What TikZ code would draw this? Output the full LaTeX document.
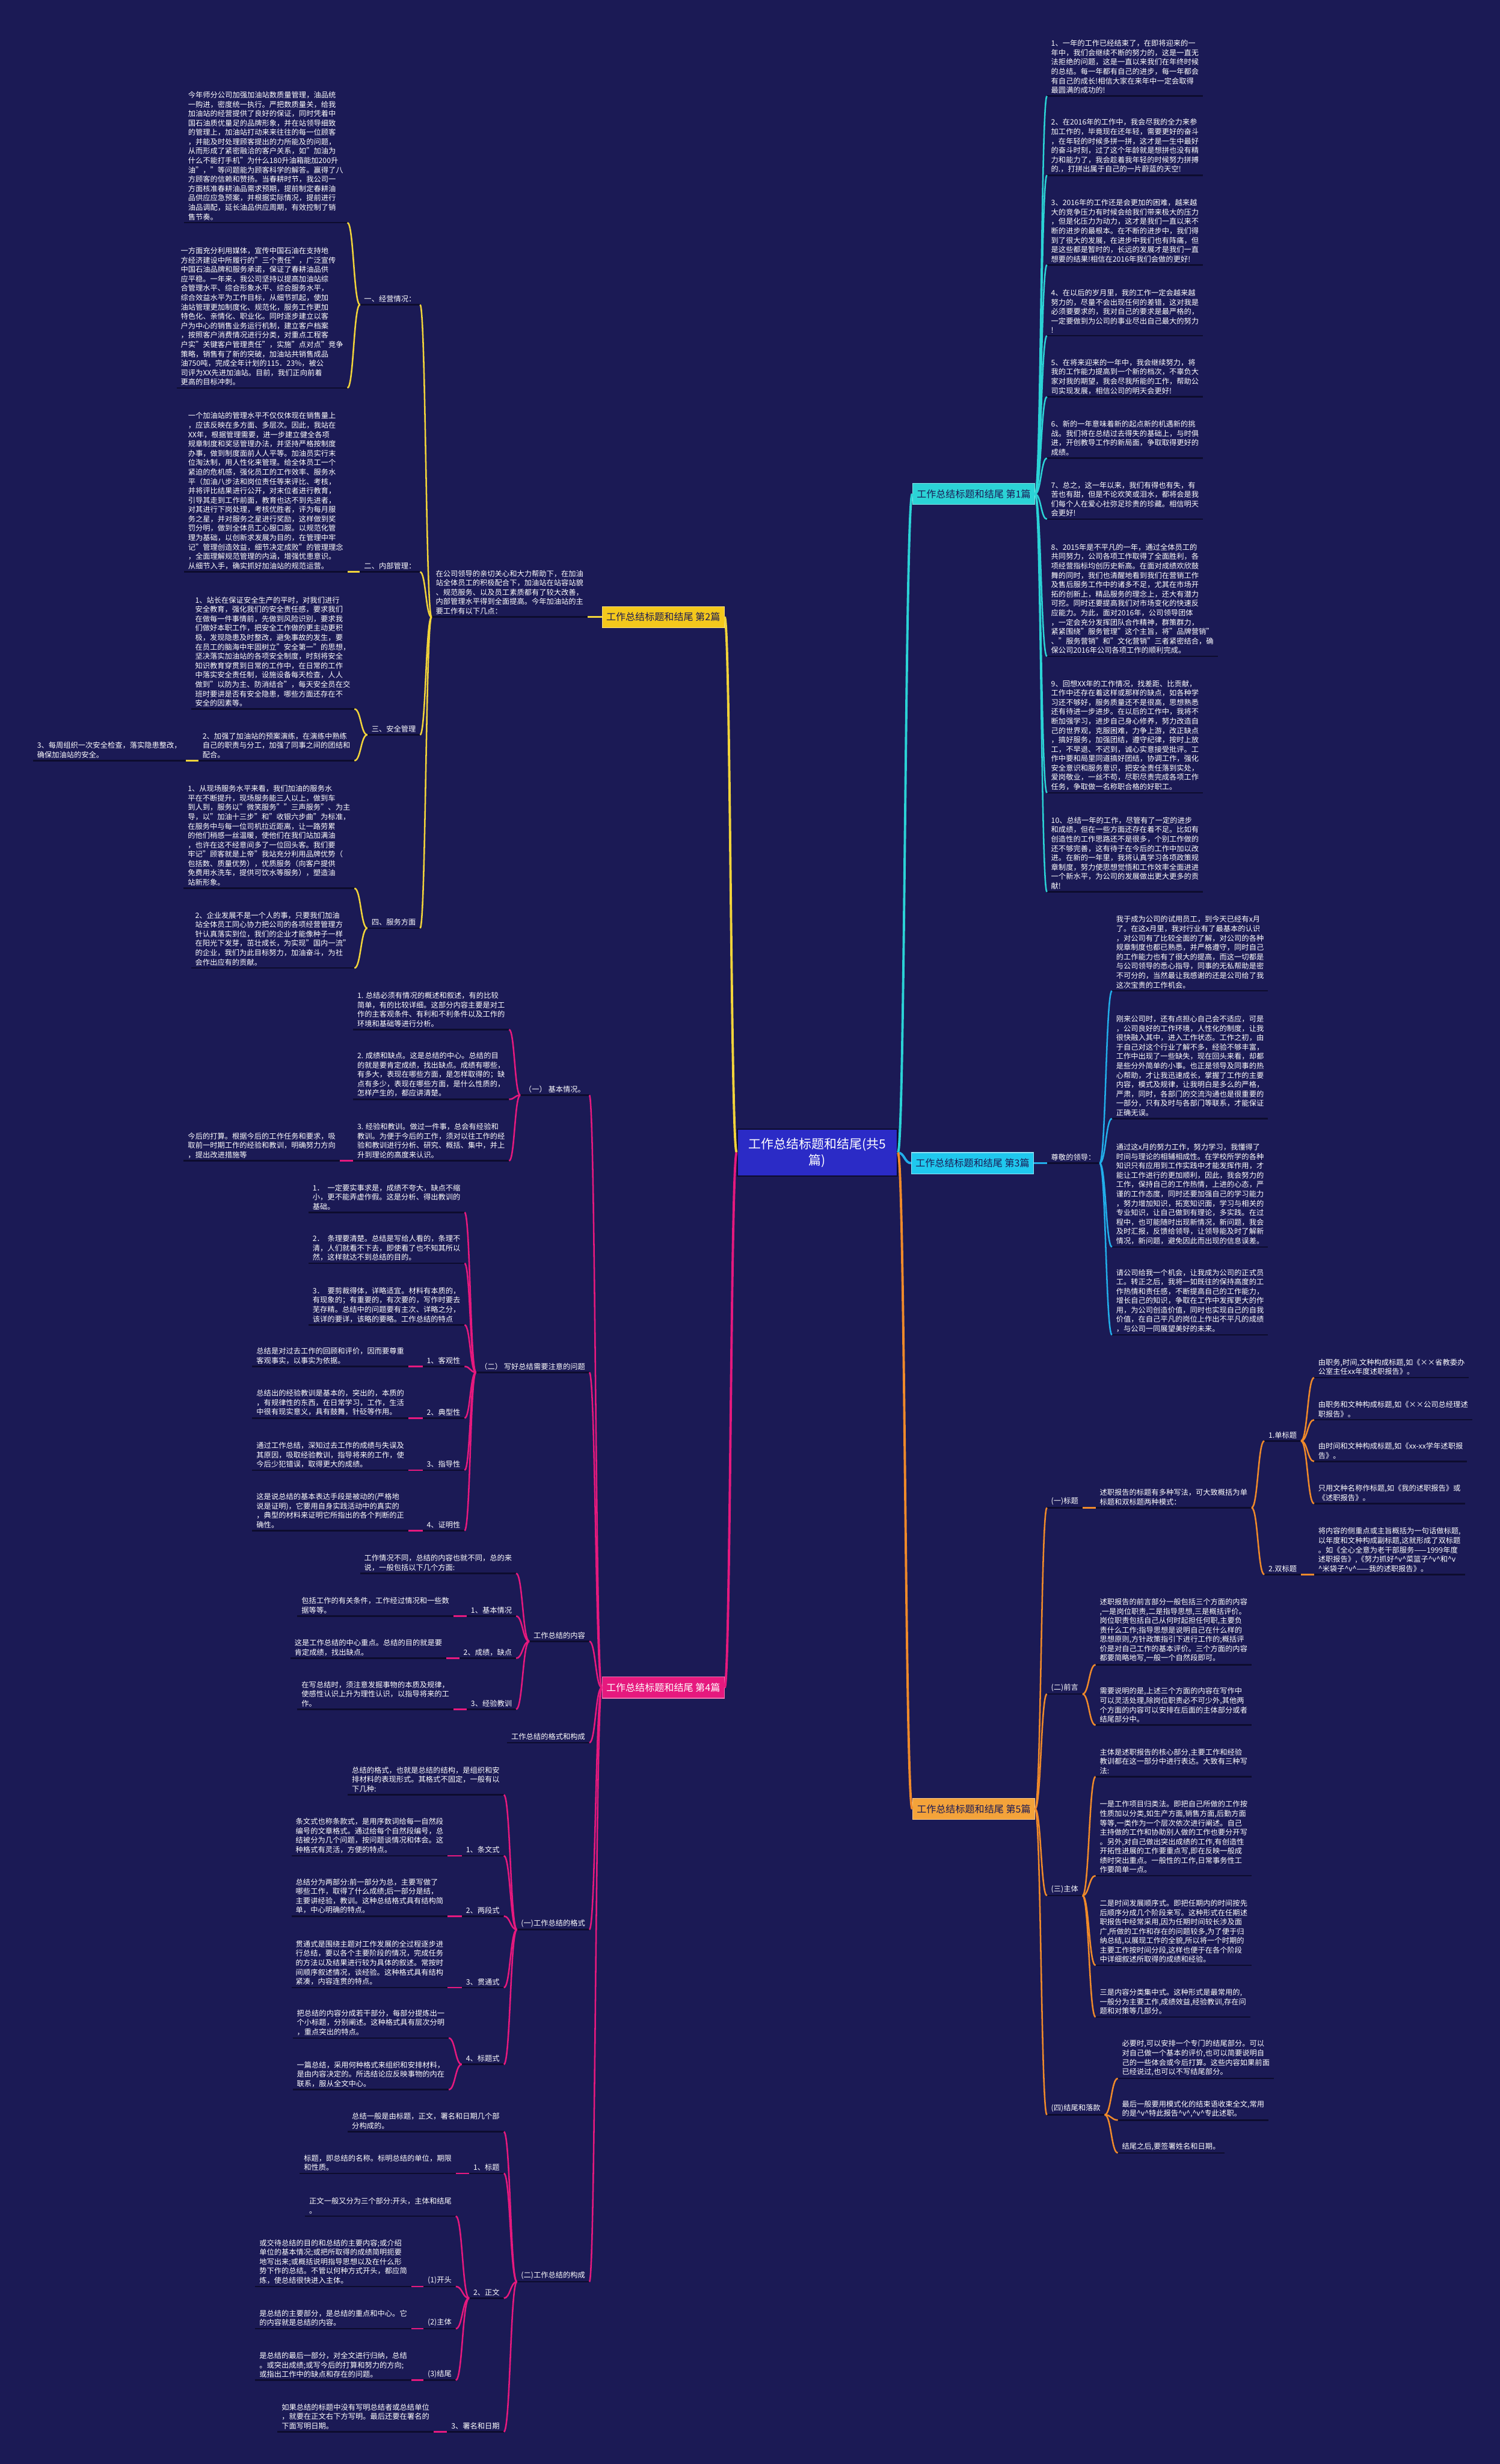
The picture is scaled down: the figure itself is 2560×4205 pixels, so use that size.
\documentclass[tikz,border=0pt]{standalone}
\usepackage{fontspec}
\setmainfont{Noto Sans CJK SC}
\usetikzlibrary{calc}
\definecolor{bg}{HTML}{1B1A55}
\definecolor{ulc}{HTML}{0D0C2E}
\definecolor{cOne}{HTML}{2BD3D6}
\definecolor{cTwo}{HTML}{F4C81C}
\definecolor{cTwoL}{HTML}{F2D43A}
\definecolor{cThree}{HTML}{1FC8EE}
\definecolor{cThreeL}{HTML}{22AEEA}
\definecolor{cFour}{HTML}{E6197E}
\definecolor{cFive}{HTML}{F4A33A}
\definecolor{cFiveL}{HTML}{F08A2A}
\definecolor{cCtr}{HTML}{2B2BC6}
\definecolor{dtxt}{HTML}{1B1A55}
\newcommand\ftxt{\fontsize{12.6}{16}\selectfont}
\newcommand\fbr{\fontsize{16.5}{20}\selectfont}
\newcommand\fctr{\fontsize{21.5}{28}\selectfont}
\newcommand\cc{\textasciicircum}
\newcommand\nodeL[4]{\node[txt,anchor=south east] (#1) at (#2,#3) {#4};}
\newcommand\nodeR[4]{\node[txt,anchor=south west] (#1) at (#2,#3) {#4};}
\newcommand\lnk[3]{\draw[#1] let \p1=#2, \p2=#3 in (\p1) .. controls ({0.5*\x1+0.5*\x2},\y1) and ({0.5*\x1+0.5*\x2},\y2) .. (\p2);}
\begin{document}
\begin{tikzpicture}[x=1pt,y=-1pt,
  txt/.style={font=\ftxt, text=white, align=left, inner xsep=7pt, inner ysep=4pt},
  bbox/.style={font=\fbr, inner xsep=7pt, inner ysep=0pt, minimum height=36pt, line width=1.2pt},
  ul/.style={draw=ulc, line width=2.6pt},
  kOne/.style={draw=cOne, line width=2.6pt},
  kTwo/.style={draw=cTwoL, line width=2.6pt},
  kThree/.style={draw=cThreeL, line width=2.6pt},
  kFour/.style={draw=cFour, line width=2.6pt},
  kFive/.style={draw=cFiveL, line width=2.6pt},
  mOne/.style={draw=cOne, line width=4pt},
  mTwo/.style={draw=cTwoL, line width=4pt},
  mThree/.style={draw=cThreeL, line width=4pt},
  mFour/.style={draw=cFour, line width=4pt},
  mFive/.style={draw=cFiveL, line width=4pt}]
\useasboundingbox (0,0) rectangle (2560,4205);
\fill[bg] (0,0) rectangle (2560,4205);

% ---------- centre and branch boxes ----------
\node[fill=cCtr, draw=ulc, line width=2pt, text=white, font=\fctr, align=center, minimum width=273pt, minimum height=80pt] (c) at (1395,1967) {工作总结标题和结尾(共5\\篇)};
\node[bbox, fill=cOne, draw=cOne!60!white, text=dtxt] (b1) at (1662,843) {工作总结标题和结尾 第1篇};
\node[bbox, fill=cTwo, draw=cTwo!60!white, text=dtxt] (b2) at (1132,1053) {工作总结标题和结尾 第2篇};
\node[bbox, fill=cThree, draw=cThree!50!white, text=dtxt] (b3) at (1660,1985) {工作总结标题和结尾 第3篇};
\node[bbox, fill=cFour, draw=cFour!60!white, text=white] (b4) at (1132,2880) {工作总结标题和结尾 第4篇};
\node[bbox, fill=cFive, draw=cFive!60!white, text=dtxt] (b5) at (1662,3087) {工作总结标题和结尾 第5篇};
\coordinate (cR) at (c.east);
\coordinate (cL) at (c.west);

% ---------- branch 1 ----------
\nodeR{p1}{1787}{164}{1、一年的工作已经结束了，在即将迎来的一\\年中，我们会继续不断的努力的，这是一直无\\法拒绝的问题，这是一直以来我们在年终时候\\的总结。每一年都有自己的进步，每一年都会\\有自己的成长!相信大家在来年中一定会取得\\最圆满的成功的!}
\nodeR{p2}{1787}{299}{2、在2016年的工作中，我会尽我的全力来参\\加工作的，毕竟现在还年轻，需要更好的奋斗\\，在年轻的时候多拼一拼，这才是一生中最好\\的奋斗时刻，过了这个年龄就是想拼也没有精\\力和能力了，我会趁着我年轻的时候努力拼搏\\的.，打拼出属于自己的一片蔚蓝的天空!}
\nodeR{p3}{1787}{452}{3、2016年的工作还是会更加的困难，越来越\\大的竞争压力有时候会给我们带来极大的压力\\，但是化压力为动力，这才是我们一直以来不\\断的进步的最根本。在不断的进步中，我们得\\到了很大的发展，在进步中我们也有阵痛，但\\是这些都是暂时的，长远的发展才是我们一直\\想要的结果!相信在2016年我们会做的更好!}
\nodeR{p4}{1787}{573}{4、在以后的岁月里，我的工作一定会越来越\\努力的，尽量不会出现任何的差错，这对我是\\必须要要求的，我对自己的要求是最严格的，\\一定要做到为公司的事业尽出自己最大的努力\\!}
\nodeR{p5}{1787}{677}{5、在将来迎来的一年中，我会继续努力，将\\我的工作能力提高到一个新的档次，不辜负大\\家对我的期望，我会尽我所能的工作，帮助公\\司实现发展，相信公司的明天会更好!}
\nodeR{p6}{1787}{782}{6、新的一年意味着新的起点新的机遇新的挑\\战。我们将在总结过去得失的基础上，与时俱\\进，开创教导工作的新局面，争取取得更好的\\成绩。}
\nodeR{p7}{1787}{886}{7、总之，这一年以来，我们有得也有失，有\\苦也有甜，但是不论欢笑或泪水，都将会是我\\们每个人在爱心社弥足珍贵的珍藏。相信明天\\会更好!}
\nodeR{p8}{1787}{1120}{8、2015年是不平凡的一年，通过全体员工的\\共同努力，公司各项工作取得了全面胜利，各\\项经营指标均创历史新高。在面对成绩欢欣鼓\\舞的同时，我们也清醒地看到我们在营销工作\\及售后服务工作中的诸多不足，尤其在市场开\\拓的创新上，精品服务的理念上，还大有潜力\\可挖。同时还要提高我们对市场变化的快速反\\应能力。为此，面对2016年，公司领导团体\\，一定会充分发挥团队合作精神，群策群力，\\紧紧围绕"服务管理"这个主旨，将"品牌营销"\\、"服务营销"和"文化营销"三者紧密结合，确\\保公司2016年公司各项工作的顺利完成。}
\nodeR{p9}{1787}{1353}{9、回想XX年的工作情况，找差距、比贡献，\\工作中还存在着这样或那样的缺点，如各种学\\习还不够好，服务质量还不是很高，思想熟悉\\还有待进一步进步。在以后的工作中，我将不\\断加强学习，进步自己身心修养，努力改造自\\己的世界观，克服困难，力争上游，改正缺点\\，搞好服务，加强团结，遵守纪律，按时上放\\工，不早退、不迟到，诚心实意接受批评。工\\作中要和局里同道搞好团结，协调工作，强化\\安全意识和服务意识，把安全责任落到实处，\\爱岗敬业，一丝不苟，尽职尽责完成各项工作\\任务，争取做一名称职合格的好职工。}
\nodeR{p10}{1787}{1522}{10、总结一年的工作，尽管有了一定的进步\\和成绩，但在一些方面还存在着不足。比如有\\创造性的工作思路还不是很多，个别工作做的\\还不够完善，这有待于在今后的工作中加以改\\进。在新的一年里，我将认真学习各项政策规\\章制度，努力使思想觉悟和工作效率全面进进\\一个新水平，为公司的发展做出更大更多的贡\\献!}

% ---------- branch 2 ----------
\nodeL{i2}{1003}{1053}{在公司领导的亲切关心和大力帮助下，在加油\\站全体员工的积极配合下，加油站在站容站貌\\、规范服务、以及员工素质都有了较大改善，\\内部管理水平得到全面提高。今年加油站的主\\要工作有以下几点：}
\nodeL{l21}{717}{520}{一、经营情况：}
\nodeL{a21}{593}{380}{今年师分公司加强加油站数质量管理，油品统\\一购进，密度统一执行。严把数质量关，给我\\加油站的经营提供了良好的保证，同时凭着中\\国石油质优量足的品牌形象，并在站领导细致\\的管理上，加油站打动来来往往的每一位顾客\\，并能及时处理顾客提出的力所能及的问题，\\从而形成了紧密融洽的客户关系，如"加油为\\什么不能打手机"为什么180升油箱能加200升\\油"，"等问题能为顾客科学的解答。赢得了八\\方顾客的信赖和赞扬。当春耕时节，我公司一\\方面核准春耕油品需求预期，提前制定春耕油\\品供应应急预案，并根据实际情况，提前进行\\油品调配，延长油品供应周期，有效控制了销\\售节奏。}
\nodeL{a22}{593}{662}{一方面充分利用媒体，宣传中国石油在支持地\\方经济建设中所履行的"三个责任"，广泛宣传\\中国石油品牌和服务承诺，保证了春耕油品供\\应平稳。一年来，我公司坚持以提高加油站综\\合管理水平、综合形象水平、综合服务水平，\\综合效益水平为工作目标，从细节抓起，使加\\油站管理更加制度化、规范化，服务工作更加\\特色化、亲情化、职业化。同时逐步建立以客\\户为中心的销售业务运行机制，建立客户档案\\，按照客户消费情况进行分类，对重点工程客\\户实"关键客户管理责任"，实施"点对点"竞争\\策略，销售有了新的突破，加油站共销售成品\\油750吨，完成全年计划的115．23\%，被公\\司评为XX先进加油站。目前，我们正向前着\\更高的目标冲刺。}
\nodeL{l22}{717}{976}{二、内部管理：}
\nodeL{a23}{593}{976}{一个加油站的管理水平不仅仅体现在销售量上\\，应该反映在多方面、多层次。因此，我站在\\XX年，根据管理需要，进一步建立健全各项\\规章制度和奖惩管理办法，并坚持严格按制度\\办事，做到制度面前人人平等。加油员实行末\\位淘汰制，用人性化来管理。给全体员工一个\\紧迫的危机感，强化员工的工作效率、服务水\\平（加油八步法和岗位责任等来评比、考核，\\并将评比结果进行公开，对末位者进行教育，\\引导其走到工作前面，教育也达不到先进者，\\对其进行下岗处理，考核优胜者，评为每月服\\务之星，并对服务之星进行奖励，这样做到奖\\罚分明，做到全体员工心服口服。以规范化管\\理为基础，以创新求发展为目的，在管理中牢\\记"管理创造效益，细节决定成败"的管理理念\\，全面理解规范管理的内涵，增强忧患意识。\\从细节入手，确实抓好加油站的规范运营。}
\nodeL{l23}{717}{1254}{三、安全管理}
\nodeL{a24}{605}{1210}{1、站长在保证安全生产的平时，对我们进行\\安全教育，强化我们的安全责任感，要求我们\\在做每一件事情前，先做到风险识别，要求我\\们做好本职工作，把安全工作做的更主动更积\\极，发现隐患及时整改，避免事故的发生，要\\在员工的脑海中牢固树立"安全第一"的思想，\\坚决落实加油站的各项安全制度，时刻将安全\\知识教育穿贯到日常的工作中，在日常的工作\\中落实安全责任制，设施设备每天检查，人人\\做到"以防为主、防消结合"，每天安全员在交\\班时要讲是否有安全隐患，哪些方面还存在不\\安全的因素等。}
\nodeL{a25}{605}{1298}{2、加强了加油站的预案演练，在演练中熟练\\自己的职责与分工，加强了同事之间的团结和\\配合。}
\nodeL{a26}{317}{1298}{3、每周组织一次安全检查，落实隐患整改，\\确保加油站的安全。}
\nodeL{l24}{717}{1584}{四、服务方面}
\nodeL{a27}{605}{1516}{1、从现场服务水平来看，我们加油的服务水\\平在不断提升，现场服务能三人以上，做到车\\到人到，服务以"微笑服务""三声服务"、为主\\导，以"加油十三步"和"收银六步曲"为标准，\\在服务中与每一位司机拉近距离，让一路劳累\\的他们稍感一丝温暖，使他们在我们站加满油\\，也许在这不经意间多了一位回头客。我们要\\牢记"顾客就是上帝"我站充分利用品牌优势（\\包括数、质量优势），优质服务（向客户提供\\免费用水洗车，提供可饮水等服务），塑造油\\站新形象。}
\nodeL{a28}{605}{1652}{2、企业发展不是一个人的事，只要我们加油\\站全体员工同心协力把公司的各项经营管理方\\针认真落实到位，我们的企业才能像种子一样\\在阳光下发芽，茁壮成长，为实现"国内一流"\\的企业，我们为此目标努力，加油奋斗，为社\\会作出应有的贡献。}

% ---------- branch 3 ----------
\nodeR{l3}{1787}{1985}{尊敬的领导：}
\nodeR{q1}{1898}{1691}{我于成为公司的试用员工，到今天已经有x月\\了。在这x月里，我对行业有了最基本的认识\\，对公司有了比较全面的了解，对公司的各种\\规章制度也都已熟悉，并严格遵守，同时自己\\的工作能力也有了很大的提高，而这一切都是\\与公司领导的悉心指导，同事的无私帮助是密\\不可分的，当然最让我感谢的还是公司给了我\\这次宝贵的工作机会。}
\nodeR{q2}{1898}{1909}{刚来公司时，还有点担心自己会不适应，可是\\，公司良好的工作环境，人性化的制度，让我\\很快融入其中，进入工作状态。工作之初，由\\于自己对这个行业了解不多，经验不够丰富，\\工作中出现了一些缺失，现在回头来看，却都\\是些分外简单的小事。也正是领导及同事的热\\心帮助，才让我迅速成长，掌握了工作的主要\\内容，模式及规律，让我明白是多么的严格，\\严肃，同时，各部门的交流沟通也是很重要的\\一部分，只有及时与各部门等联系，才能保证\\正确无误。}
\nodeR{q3}{1898}{2128}{通过这x月的努力工作，努力学习，我懂得了\\时间与理论的相辅相成性。在学校所学的各种\\知识只有应用到工作实践中才能发挥作用，才\\能让工作进行的更加顺利，因此，我会努力的\\工作，保持自己的工作热情，上进的心态，严\\谨的工作态度，同时还要加强自己的学习能力\\，努力增加知识，拓宽知识面，学习与相关的\\专业知识，让自己做到有理论，多实践。在过\\程中，也可能随时出现新情况，新问题，我会\\及时汇报，反馈给领导，让领导能及时了解新\\情况，新问题，避免因此而出现的信息误差。}
\nodeR{q4}{1898}{2278}{请公司给我一个机会，让我成为公司的正式员\\工。转正之后，我将一如既往的保持高度的工\\作热情和责任感，不断提高自己的工作能力，\\增长自己的知识，争取在工作中发挥更大的作\\用，为公司创造价值，同时也实现自己的自我\\价值，在自己平凡的岗位上作出不平凡的成绩\\，与公司一同展望美好的未来。}

% ---------- branch 4 ----------
\nodeL{l41}{1006}{1869}{（一） 基本情况。}
\nodeL{j1}{869}{1757}{1. 总结必须有情况的概述和叙述，有的比较\\简单，有的比较详细。这部分内容主要是对工\\作的主客观条件、有利和不利条件以及工作的\\环境和基础等进行分析。}
\nodeL{j2}{869}{1876}{2. 成绩和缺点。这是总结的中心。总结的目\\的就是要肯定成绩，找出缺点。成绩有哪些，\\有多大，表现在哪些方面，是怎样取得的；缺\\点有多少，表现在哪些方面，是什么性质的，\\怎样产生的，都应讲清楚。}
\nodeL{j3}{869}{1981}{3. 经验和教训。做过一件事，总会有经验和\\教训。为便于今后的工作，须对以往工作的经\\验和教训进行分析、研究、概括、集中，并上\\升到理论的高度来认识。}
\nodeL{j4}{580}{1981}{今后的打算。根据今后的工作任务和要求，吸\\取前一时期工作的经验和教训，明确努力方向\\，提出改进措施等}
\nodeL{l42}{1006}{2342}{（二） 写好总结需要注意的问题}
\nodeL{k1}{793}{2069}{1．\ \ 一定要实事求是，成绩不夸大，缺点不缩\\小，更不能弄虚作假。这是分析、得出教训的\\基础。}
\nodeL{k2}{793}{2156}{2．\ \ 条理要清楚。总结是写给人看的，条理不\\清，人们就看不下去，即使看了也不知其所以\\然，这样就达不到总结的目的。}
\nodeL{k3}{793}{2261}{3．\ \ 要剪裁得体，详略适宜。材料有本质的，\\有现象的；有重要的，有次要的，写作时要去\\芜存精。总结中的问题要有主次、详略之分，\\该详的要详，该略的要略。工作总结的特点}
\nodeL{k4}{793}{2332}{1、客观性}
\nodeL{k4c}{697}{2332}{总结是对过去工作的回顾和评价，因而要尊重\\客观事实，以事实为依据。}
\nodeL{k5}{793}{2420}{2、典型性}
\nodeL{k5c}{697}{2420}{总结出的经验教训是基本的，突出的，本质的\\，有规律性的东西，在日常学习，工作，生活\\中很有现实意义，具有鼓舞，针砭等作用。}
\nodeL{k6}{793}{2509}{3、指导性}
\nodeL{k6c}{697}{2509}{通过工作总结，深知过去工作的成绩与失误及\\其原因，吸取经验教训，指导将来的工作，使\\今后少犯错误，取得更大的成绩。}
\nodeL{k7}{793}{2612}{4、证明性}
\nodeL{k7c}{697}{2612}{这是说总结的基本表达手段是被动的(严格地\\说是证明)，它要用自身实践活动中的真实的\\，典型的材料来证明它所指出的各个判断的正\\确性。}
\nodeL{l43}{1006}{2801}{工作总结的内容}
\nodeL{n0}{881}{2685}{工作情况不同，总结的内容也就不同，总的来\\说，一般包括以下几个方面:}
\nodeL{n1}{881}{2758}{1、基本情况}
\nodeL{n1c}{774}{2758}{包括工作的有关条件，工作经过情况和一些数\\据等等。}
\nodeL{n2}{881}{2830}{2、成绩，缺点}
\nodeL{n2c}{762}{2830}{这是工作总结的中心重点。总结的目的就是要\\肯定成绩，找出缺点。}
\nodeL{n3}{881}{2917}{3、经验教训}
\nodeL{n3c}{774}{2917}{在写总结时，须注意发掘事物的本质及规律，\\使感性认识上升为理性认识，以指导将来的工\\作。}
\nodeL{l44}{1006}{2974}{工作总结的格式和构成}
\nodeL{l45}{1006}{3293}{(一)工作总结的格式}
\nodeL{g0}{860}{3063}{总结的格式，也就是总结的结构，是组织和安\\排材料的表现形式。其格式不固定，一般有以\\下几种:}
\nodeL{g1}{860}{3167}{1、条文式}
\nodeL{g1c}{764}{3167}{条文式也称条款式，是用序数词给每一自然段\\编号的文章格式。通过给每个自然段编号，总\\结被分为几个问题，按问题谈情况和体会。这\\种格式有灵活，方便的特点。}
\nodeL{g2}{860}{3270}{2、两段式}
\nodeL{g2c}{764}{3270}{总结分为两部分:前一部分为总，主要写做了\\哪些工作，取得了什么成绩;后一部分是结，\\主要讲经验，教训。这种总结格式具有结构简\\单，中心明确的特点。}
\nodeL{g3}{860}{3392}{3、贯通式}
\nodeL{g3c}{764}{3392}{贯通式是围绕主题对工作发展的全过程逐步进\\行总结，要以各个主要阶段的情况，完成任务\\的方法以及结果进行较为具体的叙述。常按时\\间顺序叙述情况，谈经验。这种格式具有结构\\紧凑，内容连贯的特点。}
\nodeL{g4}{860}{3523}{4、标题式}
\nodeL{g4a}{766}{3478}{把总结的内容分成若干部分，每部分提炼出一\\个小标题，分别阐述。这种格式具有层次分明\\，重点突出的特点。}
\nodeL{g4b}{766}{3566}{一篇总结，采用何种格式来组织和安排材料，\\是由内容决定的。所选结论应反映事物的内在\\联系，服从全文中心。}
\nodeL{l46}{1006}{3894}{(二)工作总结的构成}
\nodeL{o0}{860}{3638}{总结一般是由标题，正文，署名和日期几个部\\分构成的。}
\nodeL{o1}{860}{3709}{1、标题}
\nodeL{o1c}{778}{3709}{标题，即总结的名称。标明总结的单位，期限\\和性质。}
\nodeL{o2}{860}{3922}{2、正文}
\nodeL{o2a}{778}{3782}{正文一般又分为三个部分:开头，主体和结尾\\。}
\nodeL{o2b}{778}{3902}{(1)开头}
\nodeL{o2bc}{702}{3902}{或交待总结的目的和总结的主要内容;或介绍\\单位的基本情况;或把所取得的成绩简明扼要\\地写出来;或概括说明指导思想以及在什么形\\势下作的总结。不管以何种方式开头，都应简\\炼，使总结很快进入主体。}
\nodeL{o2c}{778}{3974}{(2)主体}
\nodeL{o2cc}{702}{3974}{是总结的主要部分，是总结的重点和中心。它\\的内容就是总结的内容。}
\nodeL{o2d}{778}{4062}{(3)结尾}
\nodeL{o2dc}{702}{4062}{是总结的最后一部分，对全文进行归纳，总结\\。或突出成绩;或写今后的打算和努力的方向;\\或指出工作中的缺点和存在的问题。}
\nodeL{o3}{860}{4150}{3、署名和日期}
\nodeL{o3c}{740}{4150}{如果总结的标题中没有写明总结者或总结单位\\，就要在正文右下方写明。最后还要在署名的\\下面写明日期。}

% ---------- branch 5 ----------
\nodeR{l51}{1787}{2573}{(一)标题}
\nodeR{t51}{1870}{2573}{述职报告的标题有多种写法，可大致概括为单\\标题和双标题两种模式：}
\nodeR{l511}{2158}{2459}{1.单标题}
\nodeR{l512}{2158}{2687}{2.双标题}
\nodeR{s1}{2243}{2351}{由职务,时间,文种构成标题,如《××省教委办\\公室主任xx年度述职报告》。}
\nodeR{s2}{2243}{2423}{由职务和文种构成标题,如《××公司总经理述\\职报告》。}
\nodeR{s3}{2243}{2494}{由时间和文种构成标题,如《xx-xx学年述职报\\告》。}
\nodeR{s4}{2243}{2566}{只用文种名称作标题,如《我的述职报告》或\\《述职报告》。}
\nodeR{s5}{2243}{2687}{将内容的侧重点或主旨概括为一句话做标题,\\以年度和文种构成副标题,这就形成了双标题\\。如《全心全意为老干部服务——1999年度\\述职报告》,《努力抓好\cc v\cc 菜篮子\cc v\cc 和\cc v\\\cc 米袋子\cc v\cc ——我的述职报告》。}
\nodeR{l52}{1787}{2891}{(二)前言}
\nodeR{f1}{1870}{2841}{述职报告的前言部分一般包括三个方面的内容\\,一是岗位职责,二是指导思想,三是概括评价。\\岗位职责包括自己从何时起担任何职,主要负\\责什么工作;指导思想是说明自己在什么样的\\思想原则,方针政策指引下进行工作的;概括评\\价是对自己工作的基本评价。三个方面的内容\\都要简略地写,一般一个自然段即可。}
\nodeR{f2}{1870}{2944}{需要说明的是,上述三个方面的内容在写作中\\可以灵活处理,除岗位职责必不可少外,其他两\\个方面的内容可以安排在后面的主体部分或者\\结尾部分中。}
\nodeR{l53}{1787}{3235}{(三)主体}
\nodeR{m0}{1870}{3032}{主体是述职报告的核心部分,主要工作和经验\\教训都在这一部分中进行表达。大致有三种写\\法:}
\nodeR{m1}{1870}{3201}{一是工作项目归类法。即把自己所做的工作按\\性质加以分类,如生产方面,销售方面,后勤方面\\等等,一类作为一个层次依次进行阐述。自己\\主持做的工作和协助别人做的工作也要分开写\\。另外,对自己做出突出成绩的工作,有创造性\\开拓性进展的工作要重点写,即在反映一般成\\绩时突出重点。一般性的工作,日常事务性工\\作要简单一点。}
\nodeR{m2}{1870}{3354}{二是时间发展顺序式。即把任期内的时间按先\\后顺序分成几个阶段来写。这种形式在任期述\\职报告中经常采用,因为任期时间较长涉及面\\广,所做的工作和存在的问题较多,为了便于归\\纳总结,以展现工作的全貌,所以将一个时期的\\主要工作按时间分段,这样也便于在各个阶段\\中详细叙述所取得的成绩和经验。}
\nodeR{m3}{1870}{3442}{三是内容分类集中式。这种形式是最常用的,\\一般分为主要工作,成绩效益,经验教训,存在问\\题和对策等几部分。}
\nodeR{l54}{1787}{3609}{(四)结尾和落款}
\nodeR{e1}{1908}{3547}{必要时,可以安排一个专门的结尾部分。可以\\对自己做一个基本的评价,也可以简要说明自\\己的一些体会或今后打算。这些内容如果前面\\已经说过,也可以不写结尾部分。}
\nodeR{e2}{1908}{3618}{最后一般要用模式化的结束语收束全文,常用\\的是\cc v\cc 特此报告\cc v\cc ,\cc v\cc 专此述职。}
\nodeR{e3}{1908}{3674}{结尾之后,要签署姓名和日期。}

% ---------- underlines ----------
\foreach \nm in {p1,p2,p3,p4,p5,p6,p7,p8,p9,p10,
  i2,l21,a21,a22,l22,a23,l23,a24,a25,a26,l24,a27,a28,
  l3,q1,q2,q3,q4,
  l41,j1,j2,j3,j4,l42,k1,k2,k3,k4,k4c,k5,k5c,k6,k6c,k7,k7c,
  l43,n0,n1,n1c,n2,n2c,n3,n3c,l44,l45,g0,g1,g1c,g2,g2c,g3,g3c,g4,g4a,g4b,
  l46,o0,o1,o1c,o2,o2a,o2b,o2bc,o2c,o2cc,o2d,o2dc,o3,o3c,
  l51,t51,l511,l512,s1,s2,s3,s4,s5,l52,f1,f2,l53,m0,m1,m2,m3,l54,e1,e2,e3}
  {\draw[ul] (\nm.south west) -- (\nm.south east);}

% ---------- main connectors ----------
\lnk{mOne}{(cR)}{(b1.west)}
\lnk{mThree}{(cR)}{(b3.west)}
\lnk{mFive}{(cR)}{(b5.west)}
\lnk{mTwo}{(cL)}{(b2.east)}
\lnk{mFour}{(cL)}{(b4.east)}

% ---------- branch 1 connectors ----------
\foreach \nm in {p1,p2,p3,p4,p5,p6,p7,p8,p9,p10}{\lnk{kOne}{(b1.east)}{(\nm.south west)}}

% ---------- branch 2 connectors ----------
\lnk{kTwo}{(b2.west)}{(i2.south east)}
\foreach \nm in {l21,l22,l23,l24}{\lnk{kTwo}{(i2.south west)}{(\nm.south east)}}
\lnk{kTwo}{(l21.south west)}{(a21.south east)}
\lnk{kTwo}{(l21.south west)}{(a22.south east)}
\lnk{kTwo}{(l22.south west)}{(a23.south east)}
\lnk{kTwo}{(l23.south west)}{(a24.south east)}
\lnk{kTwo}{(l23.south west)}{(a25.south east)}
\lnk{kTwo}{(a25.south west)}{(a26.south east)}
\lnk{kTwo}{(l24.south west)}{(a27.south east)}
\lnk{kTwo}{(l24.south west)}{(a28.south east)}

% ---------- branch 3 connectors ----------
\lnk{kThree}{(b3.east)}{(l3.south west)}
\foreach \nm in {q1,q2,q3,q4}{\lnk{kThree}{(l3.south east)}{(\nm.south west)}}

% ---------- branch 4 connectors ----------
\foreach \nm in {l41,l42,l43,l44,l45,l46}{\lnk{kFour}{(b4.west)}{(\nm.south east)}}
\foreach \nm in {j1,j2,j3}{\lnk{kFour}{(l41.south west)}{(\nm.south east)}}
\lnk{kFour}{(j3.south west)}{(j4.south east)}
\foreach \nm in {k1,k2,k3,k4,k5,k6,k7}{\lnk{kFour}{(l42.south west)}{(\nm.south east)}}
\lnk{kFour}{(k4.south west)}{(k4c.south east)}
\lnk{kFour}{(k5.south west)}{(k5c.south east)}
\lnk{kFour}{(k6.south west)}{(k6c.south east)}
\lnk{kFour}{(k7.south west)}{(k7c.south east)}
\foreach \nm in {n0,n1,n2,n3}{\lnk{kFour}{(l43.south west)}{(\nm.south east)}}
\lnk{kFour}{(n1.south west)}{(n1c.south east)}
\lnk{kFour}{(n2.south west)}{(n2c.south east)}
\lnk{kFour}{(n3.south west)}{(n3c.south east)}
\foreach \nm in {g0,g1,g2,g3,g4}{\lnk{kFour}{(l45.south west)}{(\nm.south east)}}
\lnk{kFour}{(g1.south west)}{(g1c.south east)}
\lnk{kFour}{(g2.south west)}{(g2c.south east)}
\lnk{kFour}{(g3.south west)}{(g3c.south east)}
\lnk{kFour}{(g4.south west)}{(g4a.south east)}
\lnk{kFour}{(g4.south west)}{(g4b.south east)}
\foreach \nm in {o0,o1,o2,o3}{\lnk{kFour}{(l46.south west)}{(\nm.south east)}}
\lnk{kFour}{(o1.south west)}{(o1c.south east)}
\foreach \nm in {o2a,o2b,o2c,o2d}{\lnk{kFour}{(o2.south west)}{(\nm.south east)}}
\lnk{kFour}{(o2b.south west)}{(o2bc.south east)}
\lnk{kFour}{(o2c.south west)}{(o2cc.south east)}
\lnk{kFour}{(o2d.south west)}{(o2dc.south east)}
\lnk{kFour}{(o3.south west)}{(o3c.south east)}

% ---------- branch 5 connectors ----------
\foreach \nm in {l51,l52,l53,l54}{\lnk{kFive}{(b5.east)}{(\nm.south west)}}
\lnk{kFive}{(l51.south east)}{(t51.south west)}
\lnk{kFive}{(t51.south east)}{(l511.south west)}
\lnk{kFive}{(t51.south east)}{(l512.south west)}
\foreach \nm in {s1,s2,s3,s4}{\lnk{kFive}{(l511.south east)}{(\nm.south west)}}
\lnk{kFive}{(l512.south east)}{(s5.south west)}
\foreach \nm in {f1,f2}{\lnk{kFive}{(l52.south east)}{(\nm.south west)}}
\foreach \nm in {m0,m1,m2,m3}{\lnk{kFive}{(l53.south east)}{(\nm.south west)}}
\foreach \nm in {e1,e2,e3}{\lnk{kFive}{(l54.south east)}{(\nm.south west)}}
\end{tikzpicture}
\end{document}
